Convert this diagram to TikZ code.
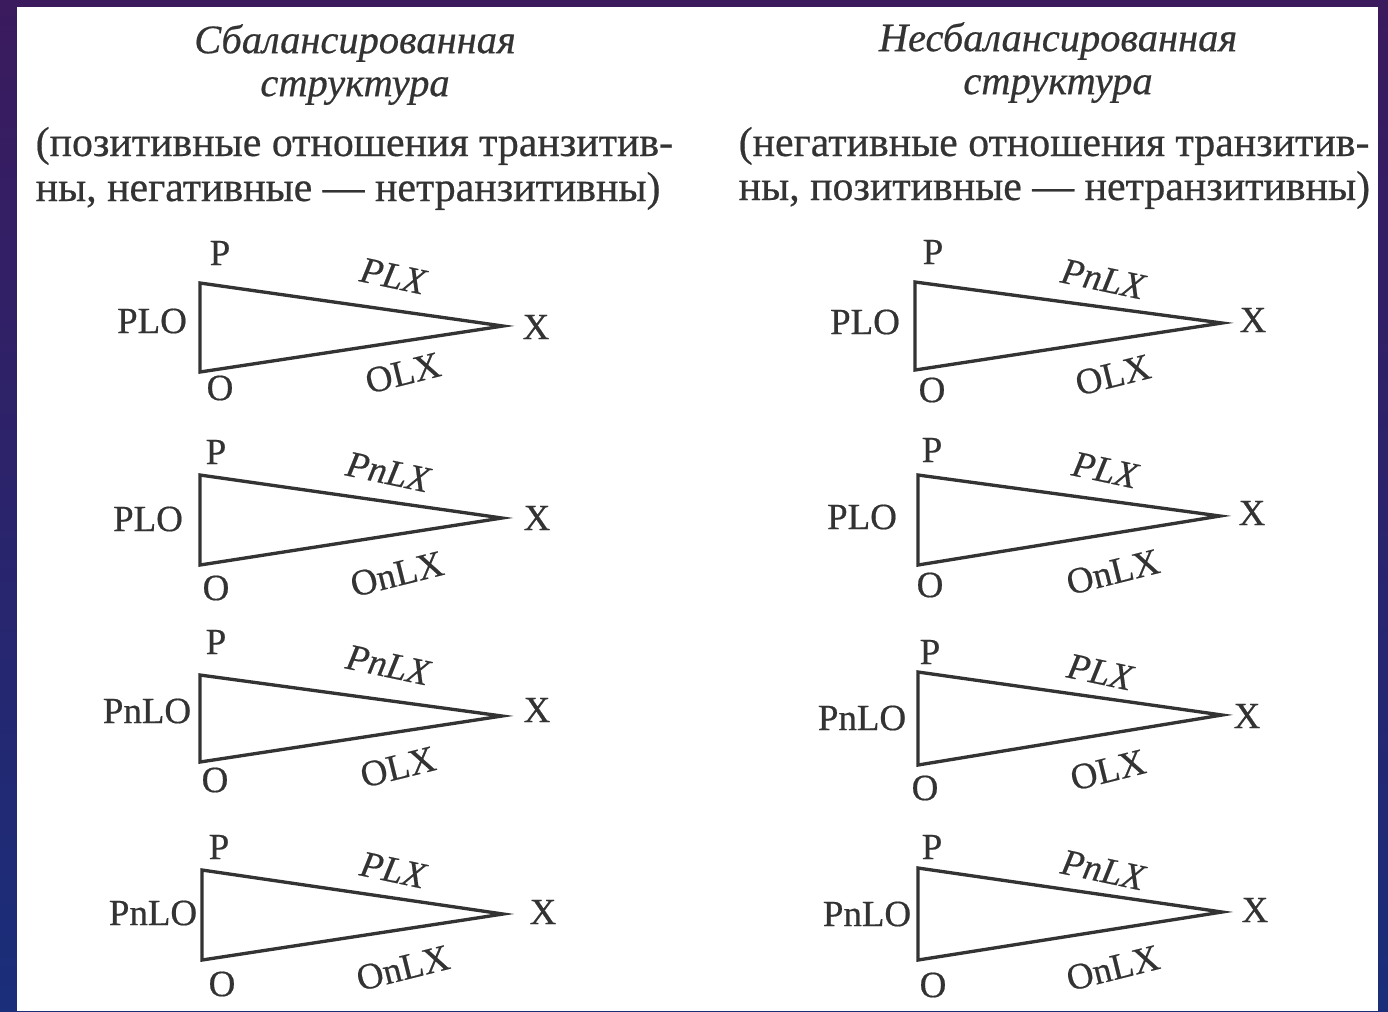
\documentclass[tikz,border=0pt]{standalone}
\usepackage{fontspec}
\setmainfont{Liberation Serif}[FakeBold=0.5]
\begin{document}
\begin{tikzpicture}[x=0.01cm,y=-0.01cm,
  ink/.style={text=inkc},
  lbl/.style={ink,font=\fontsize{10.5}{12}\selectfont,inner sep=0pt},
  hd/.style={ink,font=\fontsize{11.9}{13}\selectfont,inner sep=0pt},
  ttl/.style={ink,font=\fontsize{11.5}{13}\itshape,inner sep=0pt},
  edge/.style={draw=inkc,line width=0.95pt,line join=miter},
  up/.style={lbl,font=\fontsize{10.5}{12}\itshape,rotate=-12},
  dn/.style={lbl,rotate=14}]
\definecolor{inkc}{HTML}{333333}
\definecolor{bgtop}{HTML}{3B1A5E}
\definecolor{bgbot}{HTML}{1A2E7A}
\useasboundingbox (0,0) rectangle (1388,1011);
\shade[top color=bgtop,bottom color=bgbot] (0,0) rectangle (1388,1011);
\fill[white] (17,7) rectangle (1378,1011);

% headers
\node[ttl] (h1a) at (355,43) {Сбалансированная};
\node[ttl] (h1b) at (355,91) {структура};
\node[hd,anchor=base west] (h1c) at (35,156) {(позитивные отношения транзитив-};
\node[hd,anchor=base west] (h1d) at (35,201) {ны, негативные — нетранзитивны)};
\node[ttl] (h2a) at (1058,41) {Несбалансированная};
\node[ttl] (h2b) at (1058,89) {структура};
\node[hd,anchor=base west] (h2c) at (738,156) {(негативные отношения транзитив-};
\node[hd,anchor=base west] (h2d) at (738,200) {ны, позитивные — нетранзитивны)};

% ---------- left column ----------
% T1
\coordinate (aP) at (200,283); \coordinate (aO) at (200,372); \coordinate (aX) at (503,326);
\draw[edge] (aP) -- (aX) -- (aO) -- cycle;
\node[lbl] (aPl) at (220,253) {P};
\node[lbl] (aOl) at (220,388) {O};
\node[lbl] (aXl) at (536,327) {X};
\node[lbl] (aL) at (152,321) {PLO};
\node[up] (aU) at (393,276) {PLX};
\node[dn] (aD) at (403,373) {OLX};
% T2
\coordinate (bP) at (200,475); \coordinate (bO) at (200,565); \coordinate (bX) at (502,518);
\draw[edge] (bP) -- (bX) -- (bO) -- cycle;
\node[lbl] (bPl) at (216,452) {P};
\node[lbl] (bOl) at (216,588) {O};
\node[lbl] (bXl) at (537,518) {X};
\node[lbl] (bL) at (148,519) {PLO};
\node[up] (bU) at (388,472) {PnLX};
\node[dn] (bD) at (397,574) {OnLX};
% T3
\coordinate (cP) at (200,675); \coordinate (cO) at (200,762); \coordinate (cX) at (502,716);
\draw[edge] (cP) -- (cX) -- (cO) -- cycle;
\node[lbl] (cPl) at (216,642) {P};
\node[lbl] (cOl) at (215,780) {O};
\node[lbl] (cXl) at (537,710) {X};
\node[lbl] (cL) at (147,711) {PnLO};
\node[up] (cU) at (388,665) {PnLX};
\node[dn] (cD) at (398,767) {OLX};
% T4
\coordinate (dP) at (202,870); \coordinate (dO) at (202,960); \coordinate (dX) at (503,914);
\draw[edge] (dP) -- (dX) -- (dO) -- cycle;
\node[lbl] (dPl) at (219,847) {P};
\node[lbl] (dOl) at (222,984) {O};
\node[lbl] (dXl) at (543,912) {X};
\node[lbl] (dL) at (153,913) {PnLO};
\node[up] (dU) at (393,870) {PLX};
\node[dn] (dD) at (403,968) {OnLX};

% ---------- right column ----------
% T1
\coordinate (eP) at (915,282); \coordinate (eO) at (915,370); \coordinate (eX) at (1222,323);
\draw[edge] (eP) -- (eX) -- (eO) -- cycle;
\node[lbl] (ePl) at (933,252) {P};
\node[lbl] (eOl) at (932,390) {O};
\node[lbl] (eXl) at (1253,320) {X};
\node[lbl] (eL) at (865,322) {PLO};
\node[up] (eU) at (1103,279) {PnLX};
\node[dn] (eD) at (1113,375) {OLX};
% T2
\coordinate (fP) at (918,475); \coordinate (fO) at (918,565); \coordinate (fX) at (1220,516);
\draw[edge] (fP) -- (fX) -- (fO) -- cycle;
\node[lbl] (fPl) at (932,450) {P};
\node[lbl] (fOl) at (930,585) {O};
\node[lbl] (fXl) at (1252,513) {X};
\node[lbl] (fL) at (862,517) {PLO};
\node[up] (fU) at (1105,470) {PLX};
\node[dn] (fD) at (1113,572) {OnLX};
% T3
\coordinate (gP) at (918,672); \coordinate (gO) at (918,765); \coordinate (gX) at (1222,715);
\draw[edge] (gP) -- (gX) -- (gO) -- cycle;
\node[lbl] (gPl) at (930,652) {P};
\node[lbl] (gOl) at (925,788) {O};
\node[lbl] (gXl) at (1247,716) {X};
\node[lbl] (gL) at (862,718) {PnLO};
\node[up] (gU) at (1100,672) {PLX};
\node[dn] (gD) at (1108,770) {OLX};
% T4
\coordinate (hP) at (918,868); \coordinate (hO) at (918,960); \coordinate (hX) at (1222,912);
\draw[edge] (hP) -- (hX) -- (hO) -- cycle;
\node[lbl] (hPl) at (932,847) {P};
\node[lbl] (hOl) at (933,985) {O};
\node[lbl] (hXl) at (1255,910) {X};
\node[lbl] (hL) at (867,914) {PnLO};
\node[up] (hU) at (1103,870) {PnLX};
\node[dn] (hD) at (1113,968) {OnLX};
\end{tikzpicture}
\end{document}
